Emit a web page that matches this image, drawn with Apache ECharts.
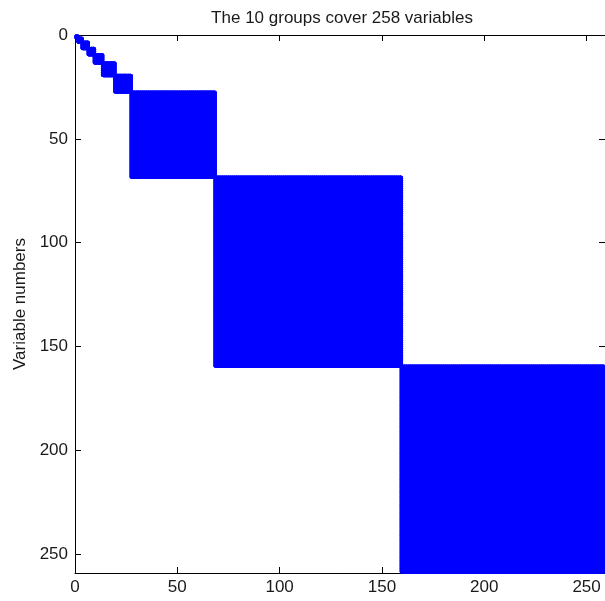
<!DOCTYPE html>
<html>
<head>
<meta charset="utf-8">
<script src="https://cdn.jsdelivr.net/npm/echarts@6/dist/echarts.min.js"></script>
<style>
  html, body { margin: 0; padding: 0; background: #fff; }
  #chart { width: 605px; height: 601px; }
</style>
</head>
<body>
<div id="chart"></div>
<script>
// Sizes of the consecutive variable groups (block-diagonal structure)
var groupSizes = [1, 2, 3, 3, 4, 6, 8, 41, 91, 99];
// Tick values for both axes
var xTicks = [0, 50, 100, 150, 200, 250];
var yTicks = [0, 50, 100, 150, 200, 250];
var axisMax = 259;

var nVars = groupSizes.reduce(function (a, b) { return a + b; }, 0);
var titleText = 'The ' + groupSizes.length + ' groups cover ' + nVars + ' variables';

// Nonzero pattern: every pair of variables in the same group
var points = [];
var start = 1;
groupSizes.forEach(function (size) {
  for (var r = start; r < start + size; r++) {
    for (var c = start; c < start + size; c++) {
      points.push([c, r]);
    }
  }
  start += size;
});

var FONT = 'Liberation Sans, Arial, sans-serif';
var INK = '#1a1a1a';

function baseAxis(extra) {
  var a = {
    type: 'value',
    min: 0,
    max: axisMax,
    interval: 50,
    splitLine: { show: false },
    axisLine: { show: true, onZero: false, lineStyle: { color: '#000', width: 1 } },
    axisTick: { show: true, inside: true, length: 6, lineStyle: { color: '#000', width: 1 },
      customValues: xTicks },
    axisLabel: { show: true, color: INK, fontFamily: FONT, fontSize: 17,
      customValues: xTicks, showMaxLabel: false }
  };
  for (var k in extra) a[k] = extra[k];
  return a;
}

var chart = echarts.init(document.getElementById('chart'), null, { renderer: 'canvas' });
chart.setOption({
  animation: false,
  backgroundColor: '#fff',
  grid: { left: 75, top: 35, width: 539, height: 538, containLabel: false },
  graphic: [{
    type: 'text',
    x: 342, y: 10,
    style: { text: titleText, fill: INK, font: '17px ' + FONT, textAlign: 'center', textVerticalAlign: 'top' }
  }],
  xAxis: [
    baseAxis({ position: 'bottom',
      axisLabel: { show: true, color: INK, fontFamily: FONT, fontSize: 17, margin: 6, customValues: xTicks } }),
    baseAxis({ position: 'top', axisLabel: { show: false } })
  ],
  yAxis: [
    baseAxis({ position: 'left', inverse: true,
      axisTick: { show: true, inside: true, length: 6, lineStyle: { color: '#000' }, customValues: yTicks },
      axisLabel: { show: true, color: INK, fontFamily: FONT, fontSize: 17, margin: 7, customValues: yTicks },
      name: 'Variable numbers', nameLocation: 'middle', nameGap: 45, nameRotate: 90,
      nameTextStyle: { color: INK, fontFamily: FONT, fontSize: 17 } }),
    baseAxis({ position: 'right', inverse: true,
      axisTick: { show: true, inside: true, length: 6, lineStyle: { color: '#000' }, customValues: yTicks },
      axisLabel: { show: false } })
  ],
  series: [{
    type: 'scatter',
    xAxisIndex: 0,
    yAxisIndex: 0,
    data: points,
    symbol: 'circle',
    symbolSize: 5.5,
    large: true,
    largeThreshold: 2000,
    itemStyle: { color: '#0000ff' },
    silent: true
  }]
});
</script>
</body>
</html>
